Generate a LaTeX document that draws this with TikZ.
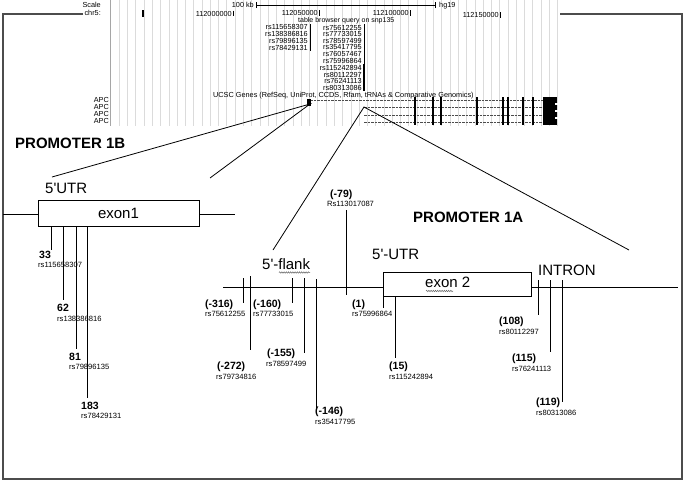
\documentclass[tikz,border=0pt]{standalone}
\usepackage{fontspec}
\setmainfont{Liberation Sans}
\usetikzlibrary{decorations.pathmorphing}
\begin{document}
\begin{tikzpicture}[x=1pt,y=-1pt,
  frame/.style={draw=black!70, line width=1.3pt},
  gridline/.style={draw=black!14, line width=0.7pt},
  tiny/.style={font=\fontsize{7.3}{7.3}\selectfont, inner sep=0pt},
  snp/.style={draw=black, line width=0.9pt},
  num/.style={font=\fontsize{10.5}{10.5}\selectfont\bfseries, inner sep=0pt, anchor=west},
  rsl/.style={font=\fontsize{7.6}{7.6}\selectfont, inner sep=0pt, anchor=west},
  big/.style={font=\fontsize{15}{15}\selectfont, inner sep=0pt},
  prom/.style={font=\fontsize{15}{15}\selectfont\bfseries, inner sep=0pt},
  exonbox/.style={draw=black, line width=0.9pt, fill=white, inner sep=0pt},
  zoomline/.style={draw=black, line width=0.8pt},
  wavy/.style={draw=black!60, line width=0.5pt, decorate, decoration={snake, amplitude=0.7pt, segment length=2.2pt}},
  track/.style={draw=black!70, line width=0.6pt, dash pattern=on 2.5pt off 1pt},
]
\useasboundingbox (0,0) rectangle (685,482);
\fill[white] (0,0) rectangle (685,482);

% ---------------- genome browser ----------------
\foreach \k in {0,...,53} \draw[gridline] ({119.3+8.27*\k},0) -- ({119.3+8.27*\k},126);
\draw[black!35, line width=1pt] (110,0) -- (110,126);

\node[tiny, anchor=east] (scale) at (101,5) {Scale};
\node[tiny, anchor=east] (chr) at (101,13) {chr5:};
\node[tiny, anchor=east] (kb) at (254,5) {100 kb};
\coordinate (sbl) at (256,5); \coordinate (sbr) at (435,5);
\draw[black, line width=0.6pt] (sbl) -- (sbr);
\draw[black, line width=0.6pt] ([yshift=-3pt]sbl) -- ([yshift=3pt]sbl) ([yshift=-3pt]sbr) -- ([yshift=3pt]sbr);
\node[tiny, anchor=west] (hg) at (439,6) {hg19};

\draw[black, line width=1.2pt] (143,10) -- (143,17);
\node[tiny, anchor=east] (p1) at (232,13.5) {112000000};
\node[tiny, anchor=east] (p2) at (318,13) {112050000};
\node[tiny, anchor=east] (p3) at (409,13) {112100000};
\node[tiny, anchor=east] (p4) at (499,15) {112150000};
\foreach \p in {p1,p2,p3,p4} \draw[black, line width=1.1pt] ([xshift=1.2pt]\p.north east) -- ([xshift=1.2pt]\p.south east);

\node[tiny, anchor=west, font=\fontsize{7}{7}\selectfont] (tbq) at (298,20.5) {table browser query on snp135};
\foreach \n/\y/\t in {a/27/rs115658307, b/34/rs138386816, c/41/rs79896135, d/48/rs78429131}
  \node[tiny, anchor=east] (L\n) at (308,\y) {\t};
\coordinate (lbt) at (310,24); \coordinate (lbb) at (310,51);
\draw[black, line width=0.8pt] (lbt) -- (lbb);
\foreach \n/\y/\t in {a/27.5/rs75612255, b/34/rs77733015, c/40.5/rs78597499, d/47/rs35417795, e/54/rs76057467, f/61/rs75996864, g/68/rs115242894, h/74.5/rs80112297, i/81/rs76241113, j/88/rs80313086}
  \node[tiny, anchor=east] (R\n) at (362,\y) {\t};
\coordinate (rbt) at (364,24); \coordinate (rbm) at (364,64); \coordinate (rbb) at (364,91);
\draw[black, line width=0.7pt] (rbt) -- (rbm);
\draw[black, line width=1.3pt] (rbm) -- (rbb);

\node[tiny, anchor=west] (ucsc) at (213,96) {UCSC Genes (RefSeq, UniProt, CCDS, Rfam, tRNAs \& Comparative Genomics)};
\foreach \n/\y in {1/100,2/107,3/114,4/121}
  \node[tiny, anchor=east] (apc\n) at (109,\y) {APC};

% gene tracks
\coordinate (t1s) at (310,100); \coordinate (t1e) at (555,100);
\coordinate (t2s) at (364,107); \coordinate (t2e) at (555,107);
\coordinate (t3s) at (364,115); \coordinate (t3e) at (555,115);
\coordinate (t4s) at (364,122); \coordinate (t4e) at (555,122);
\foreach \t in {1,2,3,4} \draw[track] (t\t s) -- (t\t e);
\fill[black] (307,99) rectangle (311,106);
\foreach \x in {415,433,441,477,503,508,523,533} \draw[black, line width=1.2pt] (\x,97) -- (\x,125);
\fill[black] (543,97) rectangle (557,125);
\fill[white] (555,103) rectangle (558,105);
\fill[white] (555,110) rectangle (558,112);
\fill[white] (555,117) rectangle (558,119);

% frame
\coordinate (f1) at (83,14); \coordinate (f2) at (3,14); \coordinate (f3) at (3,479);
\coordinate (f4) at (682,479); \coordinate (f5) at (682,14); \coordinate (f6) at (560,14);
\draw[frame] (f1) -- (f2) -- (f3) -- (f4) -- (f5) -- (f6);

% zoom lines
\coordinate (apexB) at (310,104);
\coordinate (zb1) at (52,177); \coordinate (zb2) at (210,178);
\draw[zoomline] (zb1) -- (apexB) -- (zb2);
\coordinate (apexA) at (364,107);
\coordinate (za1) at (273,250); \coordinate (za2) at (629,250);
\draw[zoomline] (za1) -- (apexA) -- (za2);

% ---------------- promoter 1B ----------------
\node[prom, anchor=west] (pr1b) at (15,143) {PROMOTER 1B};
\node[big, anchor=west] (utr1) at (45,188) {5\textquotesingle UTR};
\node[exonbox, minimum width=161pt, minimum height=26pt, font=\fontsize{15}{15}\selectfont] (exon1) at (118.5,213) {exon1};
\coordinate (b1l) at (3,214); \coordinate (b1r) at (235,214);
\draw[snp] (b1l) -- (b1l -| exon1.west);
\draw[snp] (b1r -| exon1.east) -- (b1r);

\foreach \n/\x/\b in {s33/51/250, s62/63/300, s81/76/349, s183/87/398} {
  \coordinate (\n t) at (\x,226); \coordinate (\n b) at (\x,\b);
  \draw[snp] (\n t) -- (\n b);
}
\node[num] (n33) at (39,255) {33};
\node[rsl] (r33) at (38,265) {rs115658307};
\node[num] (n62) at (57,308) {62};
\node[rsl] (r62) at (57,319) {rs138386816};
\node[num] (n81) at (69,357) {81};
\node[rsl] (r81) at (69,367) {rs79896135};
\node[num] (n183) at (81,406) {183};
\node[rsl] (r183) at (81,416) {rs78429131};

% ---------------- promoter 1A ----------------
\node[prom, anchor=west] (pr1a) at (413,217) {PROMOTER 1A};
\node[big, anchor=west] (flank) at (262,264) {5\textquotesingle -flank};
\draw[wavy] (279,272.5) -- (310,272.5);
\node[big, anchor=west] (utr2) at (372,254) {5\textquotesingle -UTR};
\node[big, anchor=west] (intron) at (538,270) {INTRON};

\node[exonbox, minimum width=148pt, minimum height=24pt] (exon2) at (457,284) {};
\node[big, anchor=west] (ex2t) at (425,282) {exon 2};
\draw[wavy] (426,291) -- (453,291);

\coordinate (flL) at (223,287); \coordinate (flR) at (678,287);
\draw[snp] (flL) -- (flL -| exon2.west);
\draw[snp] (flR -| exon2.east) -- (flR);

\foreach \n/\x/\a/\b in {m316/243/278/303, m272/250/276/350, m160/292/278/303, m155/304/278/353, m146/316/279/410, m79/346/210/295, p1/383/296/308, p15/395/296/358, p108/538/280/315, p115/550/280/352, p119/562/280/402} {
  \coordinate (\n t) at (\x,\a); \coordinate (\n b) at (\x,\b);
  \draw[snp] (\n t) -- (\n b);
}

\node[num] (n79) at (330,195) {(-79)};
\node[rsl] (r79) at (327,204) {Rs113017087};
\node[num] (n316) at (205,305) {(-316)};
\node[rsl] (r316) at (205,314) {rs75612255};
\node[num] (n272) at (217,367) {(-272)};
\node[rsl] (r272) at (216,377) {rs79734816};
\node[num] (n160) at (253,305) {(-160)};
\node[rsl] (r160) at (253,314) {rs77733015};
\node[num] (n155) at (267,354) {(-155)};
\node[rsl] (r155) at (266,364) {rs78597499};
\node[num] (n146) at (315,412) {(-146)};
\node[rsl] (r146) at (315,422) {rs35417795};
\node[num] (n1) at (352,305) {(1)};
\node[rsl] (r1) at (352,314) {rs75996864};
\node[num] (n15) at (389,367) {(15)};
\node[rsl] (r15) at (389,377) {rs115242894};
\node[num] (n108) at (499,322) {(108)};
\node[rsl] (r108) at (499,332) {rs80112297};
\node[num] (n115) at (512,359) {(115)};
\node[rsl] (r115) at (512,369) {rs76241113};
\node[num] (n119) at (536,403) {(119)};
\node[rsl] (r119) at (536,413) {rs80313086};
\end{tikzpicture}
\end{document}
